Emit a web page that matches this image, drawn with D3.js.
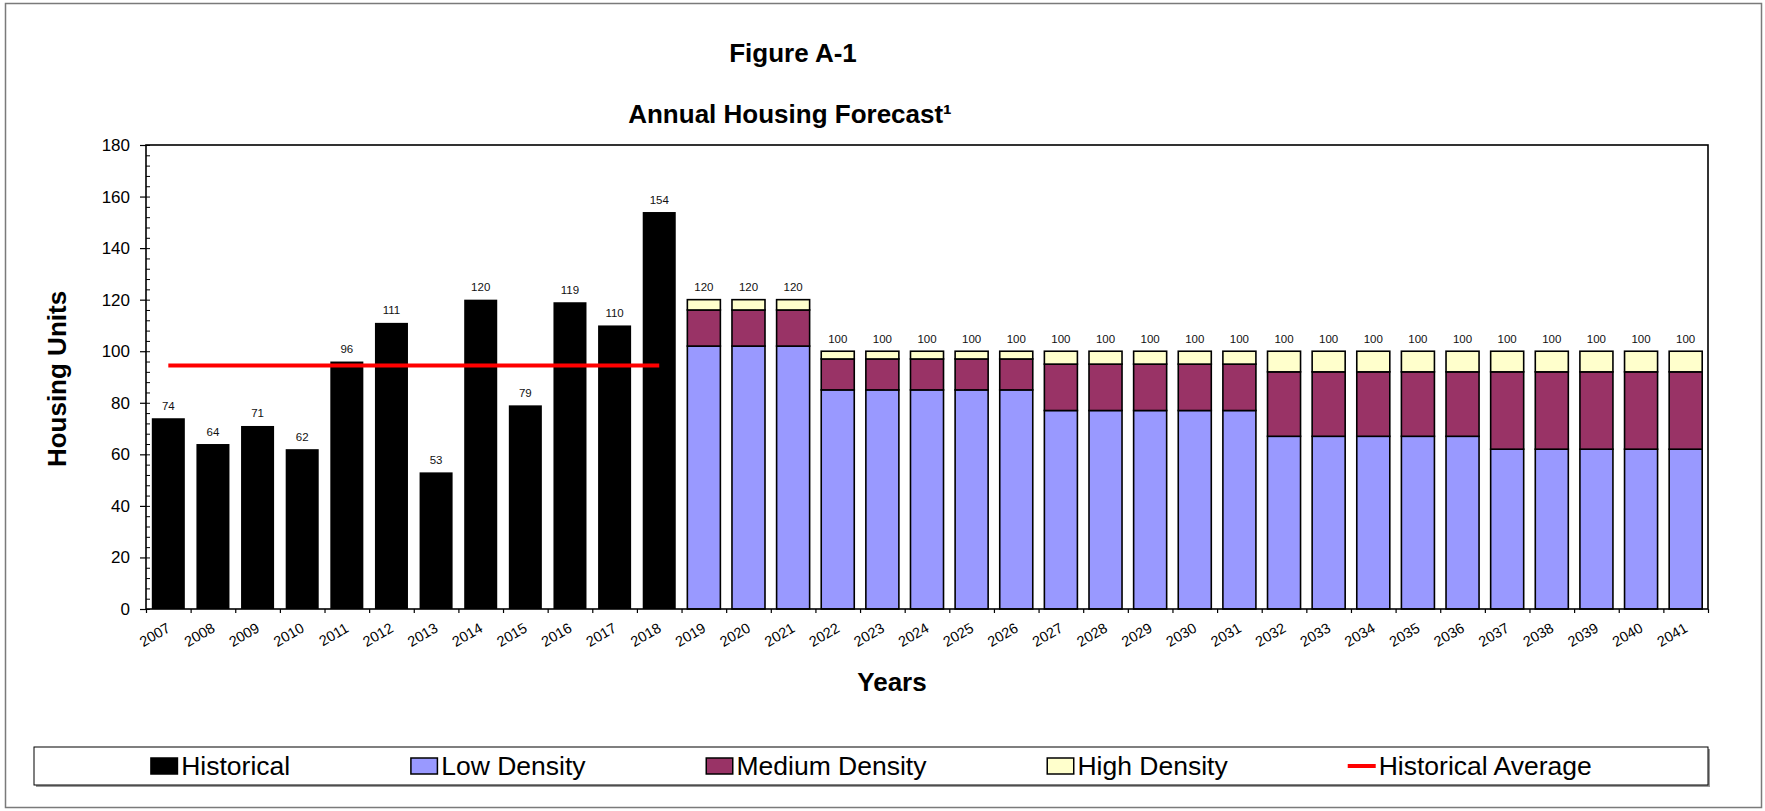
<!DOCTYPE html>
<html>
<head>
<meta charset="utf-8">
<script src="https://cdn.jsdelivr.net/npm/d3@7"></script>
<style>
  body { margin: 0; background: #fff; }
  text { font-family: "Liberation Sans", Arial, sans-serif; }
</style>
</head>
<body>
<svg id="chart" width="1765" height="811"></svg>
<script>
// ---- data ----
const years = ["2007","2008","2009","2010","2011","2012","2013","2014","2015","2016","2017","2018",
               "2019","2020","2021","2022","2023","2024","2025","2026","2027","2028","2029","2030",
               "2031","2032","2033","2034","2035","2036","2037","2038","2039","2040","2041"];
const historicalYears = ["2007","2008","2009","2010","2011","2012","2013","2014","2015","2016","2017","2018"];
const historical = [74, 64, 71, 62, 96, 111, 53, 120, 79, 119, 110, 154];
const forecastYears = ["2019","2020","2021","2022","2023","2024","2025","2026","2027","2028","2029","2030",
                       "2031","2032","2033","2034","2035","2036","2037","2038","2039","2040","2041"];
const lowDensity    = [102,102,102, 85,85,85,85,85, 77,77,77,77,77, 67,67,67,67,67, 62,62,62,62,62];
const mediumDensity = [ 14, 14, 14, 12,12,12,12,12, 18,18,18,18,18, 25,25,25,25,25, 30,30,30,30,30];
const highDensity   = [  4,  4,  4,  3, 3, 3, 3, 3,  5, 5, 5, 5, 5,  8, 8, 8, 8, 8,  8, 8, 8, 8, 8];
const averageSpan = ["2007", "2018"];
const historicalAverage = 94.5;
const yTicks = [0, 20, 40, 60, 80, 100, 120, 140, 160, 180];
const legendNames = ["Historical", "Low Density", "Medium Density", "High Density", "Historical Average"];

const colors = {
  historical: "#000000",
  low: "#9999FF",
  medium: "#993366",
  high: "#FFFFCC",
  average: "#FF0000"
};

// ---- layout ----
const svg = d3.select("#chart");
const plot = { left: 146, right: 1708, top: 145, bottom: 609 };

const x = d3.scaleBand().domain(years).range([plot.left, plot.right])
  .paddingInner(0.26).paddingOuter(0.13);
const xEdges = d3.scaleLinear().domain([0, years.length]).range([plot.left, plot.right]);
const y = d3.scaleLinear().domain([0, 180]).range([plot.bottom, plot.top]);

// outer frame
svg.append("rect").attr("x", 5.5).attr("y", 3.5).attr("width", 1756).attr("height", 804)
  .attr("fill", "#fff").attr("stroke", "#7a7a7a").attr("stroke-width", 1.5);

// titles
svg.append("text").attr("x", 793).attr("y", 62).attr("text-anchor", "middle")
  .attr("font-size", 26).attr("font-weight", "bold").text("Figure A-1");
svg.append("text").attr("x", 790).attr("y", 123).attr("text-anchor", "middle")
  .attr("font-size", 26).attr("font-weight", "bold").text("Annual Housing Forecast¹");

// historical bars
svg.append("g").selectAll("rect").data(historicalYears.map((yr, i) => ({ yr, v: historical[i] })))
  .join("rect")
  .attr("x", d => x(d.yr)).attr("width", x.bandwidth())
  .attr("y", d => y(d.v)).attr("height", d => y(0) - y(d.v))
  .attr("fill", colors.historical);

// forecast stacks
const rows = forecastYears.map((yr, i) => ({ yr, low: lowDensity[i], medium: mediumDensity[i], high: highDensity[i] }));
const stack = d3.stack().keys(["low", "medium", "high"]);
const series = stack(rows);
svg.append("g").selectAll("g").data(series).join("g")
  .attr("fill", s => colors[s.key])
  .selectAll("rect").data(s => s).join("rect")
  .attr("x", d => x(d.data.yr)).attr("width", x.bandwidth())
  .attr("y", d => y(d[1])).attr("height", d => y(d[0]) - y(d[1]))
  .attr("stroke", "#000").attr("stroke-width", 1.6);

// value labels
const totals = historicalYears.map((yr, i) => ({ yr, v: historical[i] }))
  .concat(rows.map(r => ({ yr: r.yr, v: r.low + r.medium + r.high })));
svg.append("g").selectAll("text").data(totals).join("text")
  .attr("x", d => x(d.yr) + x.bandwidth() / 2).attr("y", d => y(d.v) - 8.5)
  .attr("text-anchor", "middle").attr("font-size", 11.5).attr("fill", "#111")
  .text(d => d.v);

// historical average line
svg.append("line")
  .attr("x1", x(averageSpan[0]) + x.bandwidth() / 2)
  .attr("x2", x(averageSpan[1]) + x.bandwidth() / 2)
  .attr("y1", y(historicalAverage)).attr("y2", y(historicalAverage))
  .attr("stroke", colors.average).attr("stroke-width", 4);

// plot frame
svg.append("rect").attr("x", plot.left).attr("y", plot.top)
  .attr("width", plot.right - plot.left).attr("height", plot.bottom - plot.top)
  .attr("fill", "none").attr("stroke", "#000").attr("stroke-width", 1.6);

// y axis: major ticks outside, minor ticks inside
const yAxis = svg.append("g").attr("transform", `translate(${plot.left},0)`)
  .call(d3.axisLeft(y).tickValues(yTicks).tickSize(6).tickPadding(10));
yAxis.select(".domain").remove();
yAxis.selectAll("text").attr("font-size", 17).attr("font-family", '"Liberation Sans", Arial, sans-serif');
yAxis.selectAll("line").attr("stroke-width", 1.2);
const yMinor = svg.append("g").attr("transform", `translate(${plot.left},0)`)
  .call(d3.axisRight(y).tickValues(d3.range(0, 181, 4)).tickSize(4).tickFormat(""));
yMinor.select(".domain").remove();

// x axis: ticks on category edges, labels rotated
const xTicks = svg.append("g").attr("transform", `translate(0,${plot.bottom})`)
  .call(d3.axisBottom(xEdges).tickValues(d3.range(0, years.length + 1)).tickSize(4).tickFormat(""));
xTicks.select(".domain").remove();
xTicks.selectAll("line").attr("stroke-width", 1.2);

const xAxis = svg.append("g").attr("transform", `translate(0,${plot.bottom})`)
  .call(d3.axisBottom(x).tickSize(0));
xAxis.select(".domain").remove();
xAxis.selectAll("text")
  .attr("font-size", 14.5).attr("font-family", '"Liberation Sans", Arial, sans-serif')
  .attr("text-anchor", "end").attr("dy", null).attr("y", null)
  .attr("transform", "translate(3,22) rotate(-30)");

// axis titles
svg.append("text").attr("transform", "translate(66,379) rotate(-90)")
  .attr("text-anchor", "middle").attr("font-size", 26).attr("font-weight", "bold").text("Housing Units");
svg.append("text").attr("x", 892).attr("y", 691).attr("text-anchor", "middle")
  .attr("font-size", 26).attr("font-weight", "bold").text("Years");

// legend
const legendBox = { x: 34, y: 747, w: 1674, h: 38 };
svg.append("rect").attr("x", legendBox.x + 2).attr("y", legendBox.y + 2)
  .attr("width", legendBox.w).attr("height", legendBox.h).attr("fill", "#9a9a9a");
svg.append("rect").attr("x", legendBox.x).attr("y", legendBox.y)
  .attr("width", legendBox.w).attr("height", legendBox.h)
  .attr("fill", "#fff").attr("stroke", "#000").attr("stroke-width", 1);

const legendKeys = ["historical", "low", "medium", "high", "average"];
const swatchW = 28, swatchGap = 3, itemGap = 120;
const lg = svg.append("g");
const items = lg.selectAll("g").data(legendNames).join("g");
items.append("text")
  .attr("x", swatchW + swatchGap).attr("y", legendBox.y + legendBox.h / 2 + 9)
  .attr("font-size", 26.5).text(d => d);
const widths = [];
items.select("text").each(function () { widths.push(this.getComputedTextLength()); });
const total = d3.sum(widths) + legendNames.length * (swatchW + swatchGap) + (legendNames.length - 1) * itemGap;
let cursor = legendBox.x + legendBox.w / 2 - total / 2;
items.each(function (d, i) {
  d3.select(this).attr("transform", `translate(${cursor},0)`);
  cursor += swatchW + swatchGap + widths[i] + itemGap;
});
items.each(function (d, i) {
  const g = d3.select(this);
  const cy = legendBox.y + legendBox.h / 2;
  if (legendKeys[i] === "average") {
    g.append("line").attr("x1", 0).attr("x2", swatchW).attr("y1", cy).attr("y2", cy)
      .attr("stroke", colors.average).attr("stroke-width", 4);
  } else {
    g.append("rect").attr("x", 0.75).attr("y", cy - 8).attr("width", swatchW - 1.5).attr("height", 16)
      .attr("fill", colors[legendKeys[i]]).attr("stroke", "#000").attr("stroke-width", 1.5);
  }
});
</script>
</body>
</html>
